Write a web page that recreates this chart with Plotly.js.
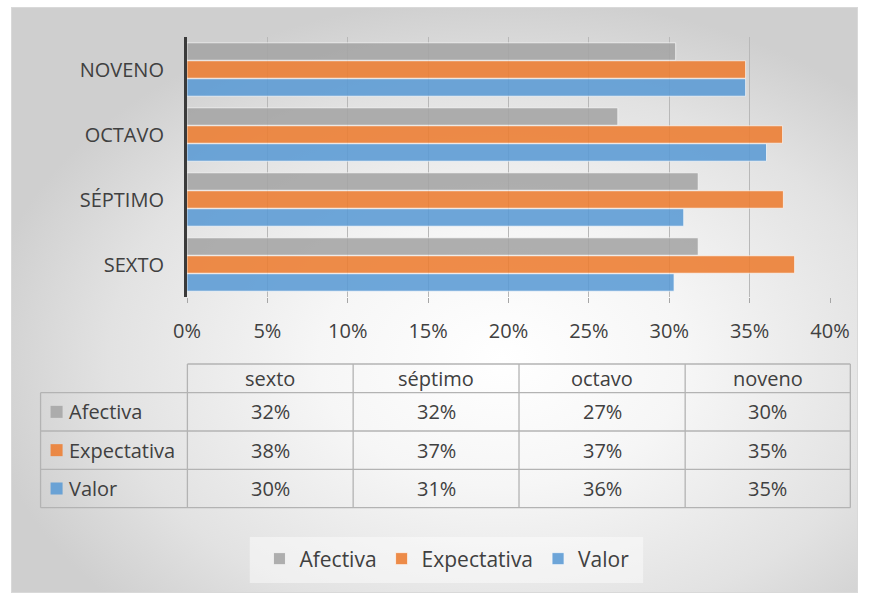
<!DOCTYPE html>
<html>
<head>
<meta charset="utf-8">
<script src="https://cdn.plot.ly/plotly-3.0.1.min.js"></script>
<style>
  html, body { margin: 0; padding: 0; background: #ffffff; }
  #wrap { position: relative; width: 869px; height: 597px; }
  #bg {
    position: absolute; left: 11px; top: 7px; width: 845px; height: 584px;
    border: 1px solid #d9d9d9;
    background: radial-gradient(ellipse 62% 62% at 58% 60%, #ffffff 0%, #f6f6f6 35%, #e2e2e2 75%, #cfcfcf 100%);
  }
  #chart { position: absolute; left: 0; top: 0; width: 869px; height: 597px; }
</style>
</head>
<body>
<div id="wrap">
  <div id="bg"></div>
  <div id="chart"></div>
</div>
<script>
// ---- data ----
const categories = ['SEXTO', 'SÉPTIMO', 'OCTAVO', 'NOVENO'];
const tableHeaders = ['sexto', 'séptimo', 'octavo', 'noveno'];
const seriesNames = ['Afectiva', 'Expectativa', 'Valor'];
const afectiva = [0.318, 0.318, 0.268, 0.304];
const expectativa = [0.378, 0.371, 0.3705, 0.3475];
const valor = [0.303, 0.309, 0.3605, 0.3475];
const xTickVals = [0, 0.05, 0.10, 0.15, 0.20, 0.25, 0.30, 0.35, 0.40];
const xTickText = ['0%', '5%', '10%', '15%', '20%', '25%', '30%', '35%', '40%'];

// ---- styles ----
const colors = { Afectiva: '#A5A5A5', Expectativa: '#ED7D31', Valor: '#5B9BD5' };
const FONT = 'Open Sans, sans-serif';
const TXT = '#404040';
const FS = 20;

// plot area in pixels
const L = 187.3, R = 829.7, T = 37, B = 297, W = 869, H = 597;
const fx = p => (p - L) / (R - L);
const fy = p => (B - p) / (B - T);

const seriesData = { Afectiva: afectiva, Expectativa: expectativa, Valor: valor };

// traces: first trace sits at the bottom of each group
const traceOrder = ['Valor', 'Expectativa', 'Afectiva'];
const traces = traceOrder.map(name => ({
  type: 'bar',
  orientation: 'h',
  name: name,
  y: categories,
  x: seriesData[name],
  opacity: 0.88,
  marker: { color: colors[name], line: { color: 'rgba(255,255,255,0.7)', width: 1 } },
  hoverinfo: 'x+name'
}));

// ---- table drawn with shapes + annotations ----
const shapes = [];
const annotations = [];
const colX = [187.7, 353.3, 519, 685, 850];
const rowY = [364, 392.7, 431, 469.3, 507.7];
const tableLeft = 41;
const lineStyle = { color: '#b3b3b3', width: 1.3 };
function seg(x0, y0, x1, y1) {
  shapes.push({ type: 'line', xref: 'paper', yref: 'paper',
    x0: fx(x0), y0: fy(y0), x1: fx(x1), y1: fy(y1), line: lineStyle });
}
// horizontal lines
seg(colX[0], rowY[0], colX[4], rowY[0]);
for (let i = 1; i < rowY.length; i++) seg(tableLeft, rowY[i], colX[4], rowY[i]);
// vertical lines
seg(tableLeft, rowY[1], tableLeft, rowY[4]);
colX.forEach(x => seg(x, rowY[0], x, rowY[4]));

// headers
tableHeaders.forEach((h, i) => {
  annotations.push({ xref: 'paper', yref: 'paper', x: fx((colX[i] + colX[i + 1]) / 2),
    y: fy((rowY[0] + rowY[1]) / 2), text: h, showarrow: false,
    xanchor: 'center', yanchor: 'middle', font: { family: FONT, size: FS, color: TXT } });
});
// rows
seriesNames.forEach((name, r) => {
  const yc = (rowY[r + 1] + rowY[r + 2]) / 2;
  shapes.push({ type: 'rect', xref: 'paper', yref: 'paper',
    x0: fx(51), x1: fx(63), y0: fy(yc - 6), y1: fy(yc + 6),
    fillcolor: colors[name], opacity: 0.88, line: { width: 0 } });
  annotations.push({ xref: 'paper', yref: 'paper', x: fx(67), y: fy(yc), text: name,
    showarrow: false, xanchor: 'left', yanchor: 'middle',
    font: { family: FONT, size: FS, color: TXT } });
  seriesData[name].forEach((v, c) => {
    annotations.push({ xref: 'paper', yref: 'paper', x: fx((colX[c] + colX[c + 1]) / 2),
      y: fy(yc), text: Math.round(v * 100) + '%', showarrow: false,
      xanchor: 'center', yanchor: 'middle', font: { family: FONT, size: FS, color: TXT } });
  });
});

// legend background box
shapes.push({ type: 'rect', xref: 'paper', yref: 'paper', layer: 'below',
  x0: fx(250), x1: fx(643), y0: fy(537), y1: fy(583),
  fillcolor: 'rgba(255,255,255,0.45)', line: { width: 0 } });

const layout = {
  width: W, height: H,
  margin: { l: L, r: W - R, t: T, b: H - B, pad: 0 },
  paper_bgcolor: 'rgba(0,0,0,0)',
  plot_bgcolor: 'rgba(0,0,0,0)',
  barmode: 'group',
  bargap: 0.17,
  bargroupgap: 0.03,
  font: { family: FONT, color: TXT },
  xaxis: {
    range: [0, 0.4],
    tickvals: xTickVals,
    ticktext: xTickText,
    ticks: 'outside', ticklen: 5, tickcolor: '#a6a6a6', tickwidth: 1,
    showgrid: true, gridcolor: '#b8b8b8', gridwidth: 1,
    zeroline: false, showline: false,
    ticklabelstandoff: 11,
    tickfont: { family: FONT, size: FS, color: TXT },
    fixedrange: true
  },
  yaxis: {
    type: 'category',
    categoryorder: 'array', categoryarray: categories,
    showline: true, linecolor: '#3a3a3a', linewidth: 3,
    ticks: '', showgrid: false, zeroline: false,
    ticklabelstandoff: 16,
    tickfont: { family: FONT, size: FS, color: TXT },
    fixedrange: true
  },
  showlegend: true,
  legend: {
    orientation: 'h', traceorder: 'reversed',
    x: fx(447), xanchor: 'center', y: fy(559), yanchor: 'middle',
    bgcolor: 'rgba(0,0,0,0)',
    font: { family: FONT, size: 21, color: TXT }
  },
  shapes: shapes,
  annotations: annotations
};

Plotly.newPlot('chart', traces, layout, { displayModeBar: false, staticPlot: true });
</script>
</body>
</html>
